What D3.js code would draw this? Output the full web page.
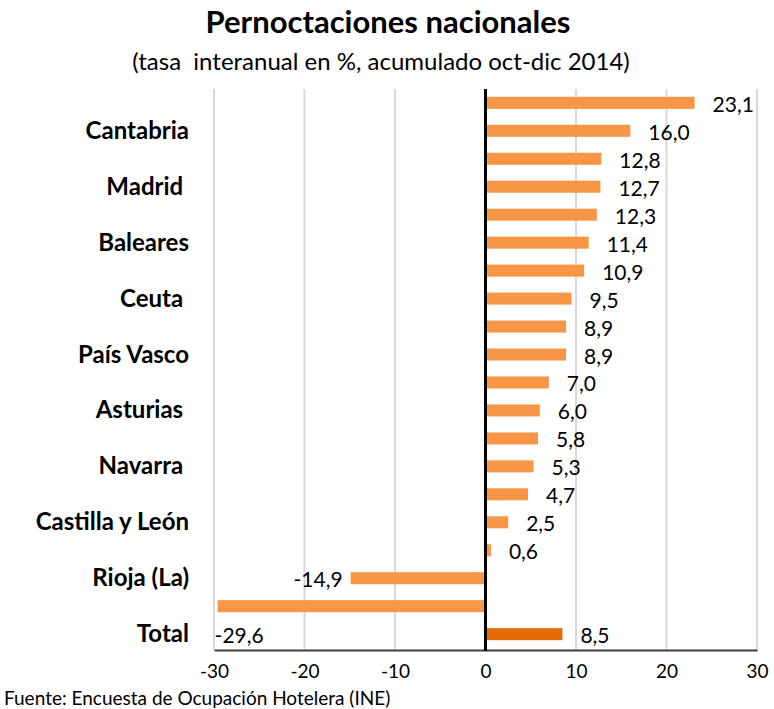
<!DOCTYPE html>
<html><head><meta charset="utf-8">
<script src="https://cdn.jsdelivr.net/npm/d3@7"></script>
<style>
body{margin:0;background:#fff;}
svg text{font-family:Lato,"Open Sans",sans-serif;}
</style></head>
<body><svg id="c" width="774" height="709"></svg>
<script>
// Category labels (only every other label is shown in the original chart)
const categories = ["", "Cantabria", "", "Madrid ", "", "Baleares", "", "Ceuta ", "", "País Vasco",
  "", "Asturias ", "", "Navarra ", "", "Castilla y León", "", "Rioja (La)", "", "Total"];
const values = [23.1, 16.0, 12.8, 12.7, 12.3, 11.4, 10.9, 9.5, 8.9, 8.9,
  7.0, 6.0, 5.8, 5.3, 4.7, 2.5, 0.6, -14.9, -29.6, 8.5];
const xTicks = [-30, -20, -10, 0, 10, 20, 30];
const title = "Pernoctaciones nacionales";
const subtitle = "(tasa  interanual en %, acumulado oct-dic 2014)";
const source = "Fuente: Encuesta de Ocupación Hotelera (INE)";

(function () {
const svg = d3.select("#c");
const pLeft = 214, pRight = 757, pTop = 89, pBottom = 650;
const x = d3.scaleLinear().domain([-30, 30]).range([pLeft, pRight]);
const y = d3.scaleBand().domain(d3.range(values.length)).range([pTop, pBottom - 2]).paddingInner(0.57).paddingOuter(0.28);

svg.append("text").attr("x", 388).attr("y", 33).attr("text-anchor", "middle")
  .attr("font-size", 31).attr("font-weight", "bold").attr("fill", "#000").text(title);
svg.append("text").attr("x", 381).attr("y", 70).attr("text-anchor", "middle")
  .attr("font-size", 24).attr("fill", "#000").style("white-space", "pre").text(subtitle);

// gridlines
svg.append("g").selectAll("line").data(xTicks.filter(t => t !== 0)).join("line")
  .attr("x1", d => x(d)).attr("x2", d => x(d)).attr("y1", pTop).attr("y2", pBottom)
  .attr("stroke", "#d9d9d9").attr("stroke-width", 2);

// bars
svg.append("g").selectAll("rect").data(values).join("rect")
  .attr("x", d => Math.min(x(0), x(d)))
  .attr("width", d => Math.abs(x(d) - x(0)))
  .attr("y", (d, i) => y(i)).attr("height", y.bandwidth())
  .attr("fill", (d, i) => categories[i] === "Total" ? "#E46C0A" : "#F79646");

// x axis
const xAxis = svg.append("g").attr("transform", `translate(0,${pBottom})`)
  .call(d3.axisBottom(x).tickValues(xTicks).tickSize(0).tickPadding(15).tickFormat(d => String(d)));
xAxis.select(".domain").attr("stroke", "#404040").attr("stroke-width", 2);
xAxis.selectAll("text").attr("font-size", 19).attr("fill", "#000").attr("font-family", "Lato");

// zero line
svg.append("line").attr("x1", x(0)).attr("x2", x(0)).attr("y1", pTop).attr("y2", pBottom + 1)
  .attr("stroke", "#000").attr("stroke-width", 3);

// y axis labels
svg.append("g").selectAll("text").data(categories).join("text")
  .attr("x", 189).attr("y", (d, i) => y(i) + y.bandwidth() / 2 + 8)
  .attr("text-anchor", "end").attr("font-size", 24).attr("font-weight", "bold")
  .style("white-space", "pre").attr("fill", "#000").text(d => d);

// value labels
const fmt = v => v.toFixed(1).replace(".", ",");
svg.append("g").selectAll("text").data(values).join("text")
  .attr("font-size", 21).attr("fill", "#000")
  .each(function (d, i) {
    const t = d3.select(this).text(fmt(d));
    const cy = y(i) + y.bandwidth() / 2 + 9;
    if (d >= 0) {
      t.attr("x", x(d) + 18).attr("y", cy).attr("text-anchor", "start");
    } else if (x(d) - 60 < pLeft) {
      t.attr("x", x(d) - 3).attr("y", cy + y.step()).attr("text-anchor", "start");
    } else {
      t.attr("x", x(d) - 8).attr("y", cy).attr("text-anchor", "end");
    }
  });

svg.append("text").attr("x", 4).attr("y", 705).attr("font-size", 19).attr("fill", "#000").text(source);
})();
</script></body></html>
